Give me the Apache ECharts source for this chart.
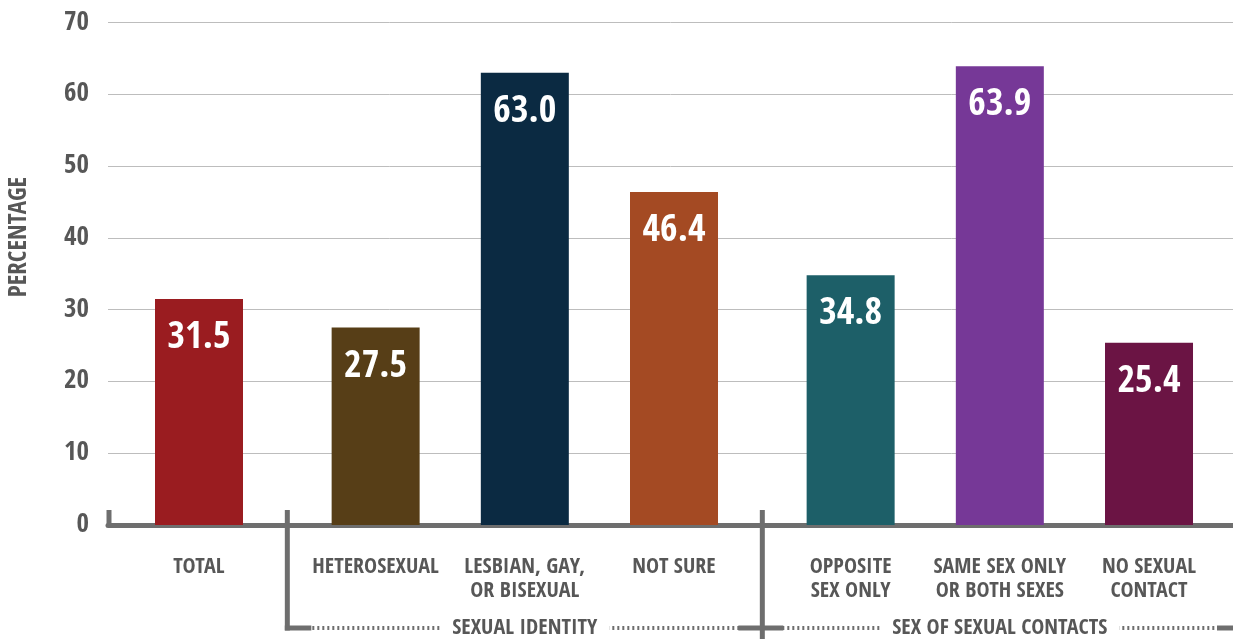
<!DOCTYPE html>
<html><head><meta charset="utf-8">
<script src="https://cdn.jsdelivr.net/npm/echarts@6/dist/echarts.min.js"></script>
<style>html,body{margin:0;padding:0;background:#fff}#c{width:1233px;height:639px}</style>
</head><body><div id="c"></div>
<script>
const categories = ['TOTAL','HETEROSEXUAL','LESBIAN, GAY,\nOR BISEXUAL','NOT SURE','OPPOSITE\nSEX ONLY','SAME SEX ONLY\nOR BOTH SEXES','NO SEXUAL\nCONTACT'];
const values = [31.5, 27.5, 63.0, 46.4, 34.8, 63.9, 25.4];
const colors = ['#9A1C20','#573E17','#0B2A42','#A44A23','#1D5F68','#763897','#6B1444'];
const groupOf = [0, 1, 1, 1, 2, 2, 2];
const groupNames = ['', 'SEXUAL IDENTITY', 'SEX OF SEXUAL CONTACTS'];
const yTicks = [0, 10, 20, 30, 40, 50, 60, 70];
const yTitle = 'PERCENTAGE';

const FONT = "'Open Sans Condensed', 'Roboto Condensed', 'DejaVu Sans Condensed', sans-serif";
const GRAY = '#575757';
const LINE = '#6e6e6e';
const GAP = 0.184;
const positions = categories.map((c, i) => i + groupOf[i] * GAP);
function nearestIdx(v) {
  let b = 0;
  positions.forEach((p, i) => { if (Math.abs(p - v) < Math.abs(positions[b] - v)) b = i; });
  return b;
}

const chart = echarts.init(document.getElementById('c'), null, {renderer: 'canvas'});
chart.setOption({
  animation: false,
  grid: {left: 108, right: 0, top: 22.5, bottom: 114, containLabel: false},
  xAxis: {
    type: 'value',
    min: positions[0] - 0.61,
    max: positions[positions.length - 1] + 0.563,
    splitLine: {show: false},
    axisTick: {show: false},
    axisLine: {show: true, lineStyle: {color: LINE, width: 5}},
    axisLabel: {
      customValues: positions,
      formatter: v => categories[nearestIdx(v)],
      fontFamily: FONT, fontWeight: 'bold', fontSize: 22, color: GRAY,
      lineHeight: 24, margin: 30
    }
  },
  yAxis: {
    type: 'value', min: yTicks[0], max: yTicks[yTicks.length - 1], interval: 10,
    axisLine: {show: false}, axisTick: {show: false},
    splitLine: {lineStyle: {color: '#bdbdbd', width: 1}},
    axisLabel: {fontFamily: FONT, fontWeight: 'bold', fontSize: 27, color: GRAY, margin: 19}
  },
  series: [{
    type: 'bar',
    barWidth: 88,
    data: values.map((v, i) => ({value: [positions[i], v], itemStyle: {color: colors[i]}})),
    label: {
      show: true, position: 'insideTop', distance: 20,
      formatter: p => p.value[1].toFixed(1),
      fontFamily: FONT, fontWeight: 'bold', fontSize: 38, color: '#fff'
    }
  }]
});

function px(v) { return chart.convertToPixel({xAxisIndex: 0}, v); }
const axisY = 525, sepTop = 510, bottomY = 628, W = 1233;
const sep1 = px((positions[0] + positions[1]) / 2);
const sep2 = px((positions[3] + positions[4]) / 2);
const gLeft = px(positions[0] - 0.61) + 1;
const g = [];
g.push({type: 'line', shape: {x1: gLeft, y1: sepTop, x2: gLeft, y2: axisY}, style: {stroke: LINE, lineWidth: 5}});
g.push({type: 'line', shape: {x1: sep1, y1: sepTop, x2: sep1, y2: bottomY + 2.5}, style: {stroke: LINE, lineWidth: 5}});
g.push({type: 'line', shape: {x1: sep2, y1: sepTop, x2: sep2, y2: 639}, style: {stroke: LINE, lineWidth: 5}});
g.push({type: 'line', shape: {x1: sep1, y1: bottomY, x2: W, y2: bottomY}, style: {stroke: LINE, lineWidth: 4, lineDash: [2, 3]}});
[[sep1 - 2.5, sep1 + 24], [sep2 - 24, sep2 + 21], [W - 16, W]].forEach(s => {
  g.push({type: 'line', shape: {x1: s[0], y1: bottomY, x2: s[1], y2: bottomY}, style: {stroke: LINE, lineWidth: 5}});
});
[1, 2].forEach(gi => {
  const idx = positions.filter((p, i) => groupOf[i] === gi);
  const cx = px(idx.reduce((a, b) => a + b, 0) / idx.length);
  g.push({type: 'text', x: cx, y: bottomY, z: 10, style: {
    text: groupNames[gi], x: 0, y: 0, align: 'center', verticalAlign: 'middle',
    font: 'bold 22px ' + FONT, fill: GRAY, backgroundColor: '#fff', padding: [2, 12]
  }});
});
g.push({type: 'text', x: 19, y: 237, rotation: Math.PI / 2, style: {
  text: yTitle, x: 0, y: 0, align: 'center', verticalAlign: 'middle',
  font: 'bold 25px ' + FONT, fill: GRAY
}});
chart.setOption({graphic: g});
</script>
</body></html>
